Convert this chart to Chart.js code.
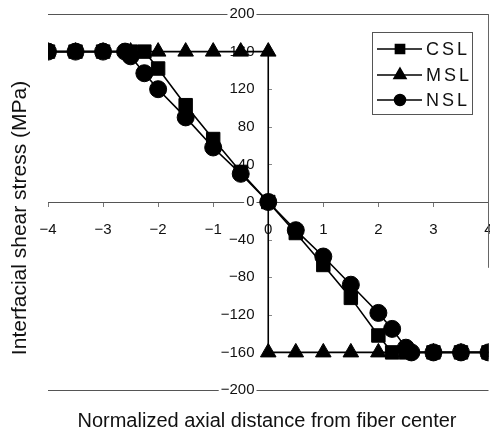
<!DOCTYPE html>
<html>
<head>
<meta charset="utf-8">
<script src="https://cdn.jsdelivr.net/npm/chart.js@4/dist/chart.umd.min.js"></script>
<style>
html,body{margin:0;padding:0;background:#fff;overflow:hidden;}
#wrap{width:490px;height:434px;position:relative;overflow:hidden;}
</style>
</head>
<body>
<div id="wrap"><canvas id="c" width="499" height="434"></canvas></div>
<script>
// ---- data ----
const seriesNames = ["CSL", "MSL", "NSL"];
const cslX = [-4, -3.5, -3, -2.5, -2.25, -2, -1.5, -1, -0.5, 0, 0.5, 1, 1.5, 2, 2.25, 2.5, 3, 3.5, 4];
const cslY = [160, 160, 160, 160, 160, 142, 103, 67, 32, 0, -33, -67, -102, -142, -160, -160, -160, -160, -160];
const mslX = [-4, -3.5, -3, -2.5, -2, -1.5, -1, -0.5, 0, 0, 0.5, 1, 1.5, 2, 2.5, 3, 3.5, 4];
const mslY = [160, 160, 160, 160, 160, 160, 160, 160, 160, -160, -160, -160, -160, -160, -160, -160, -160, -160];
const nslX = [-4, -3.5, -3, -2.6, -2.5, -2.25, -2, -1.5, -1, -0.5, 0, 0.5, 1, 1.5, 2, 2.25, 2.5, 2.6, 3, 3.5, 4];
const nslY = [160, 160, 160, 160, 155, 137, 120, 90, 58, 30, 0, -30, -58, -88, -118, -135, -155, -160, -160, -160, -160];
const xTicks = [-4, -3, -2, -1, 0, 1, 2, 3, 4];
const yTicks = [-200, -160, -120, -80, -40, 0, 40, 80, 120, 160, 200];
const xTitle = "Normalized axial distance from fiber center";
const yTitle = "Interfacial shear stress (MPa)";

const FONT = "'Liberation Sans', Arial, Helvetica, sans-serif";
const pts = (xs, ys) => xs.map((x, i) => ({x: x, y: ys[i]}));
const fmt = v => String(v).replace('-', '\u2212');

const decor = {
  id: 'decor',
  afterDraw(chart) {
    const ctx = chart.ctx, xs = chart.scales.x, ys = chart.scales.y;
    ctx.save();
    // right frame fragment
    ctx.strokeStyle = '#666'; ctx.lineWidth = 1;
    ctx.beginPath();
    const rx = Math.round(xs.getPixelForValue(4)) - 0.5;
    ctx.moveTo(rx, ys.getPixelForValue(200));
    ctx.lineTo(rx, ys.getPixelForValue(-70));
    ctx.stroke();
    // small y tick marks on the right of the centre axis
    const ax = Math.round(xs.getPixelForValue(0));
    ctx.strokeStyle = '#888';
    yTicks.forEach(v => {
      if (Math.abs(v) === 200 || v === 0 || Math.abs(v) === 160) return;
      const py = Math.round(ys.getPixelForValue(v)) + 0.5;
      ctx.beginPath(); ctx.moveTo(ax + 1, py); ctx.lineTo(ax + 4, py); ctx.stroke();
    });
    // titles
    ctx.fillStyle = '#111';
    ctx.font = '20px ' + FONT;
    ctx.textAlign = 'center'; ctx.textBaseline = 'middle';
    ctx.fillText(xTitle, 267, 421);
    ctx.save();
    ctx.font = '21px ' + FONT;
    ctx.translate(20, 218);
    ctx.rotate(-Math.PI / 2);
    ctx.fillText(yTitle, 0, 0);
    ctx.restore();
    // legend
    const bx = 372.5, by = 32.5, bw = 100, bh = 82;
    ctx.fillStyle = '#fff';
    ctx.fillRect(bx, by, bw, bh);
    ctx.strokeStyle = '#555'; ctx.lineWidth = 1;
    ctx.strokeRect(bx, by, bw, bh);
    const rowsY = [49, 75, 100];
    chart.data.datasets.forEach((ds, i) => {
      const y = rowsY[i];
      ctx.strokeStyle = '#000'; ctx.lineWidth = 1.5;
      ctx.beginPath(); ctx.moveTo(377, y); ctx.lineTo(422, y); ctx.stroke();
      ctx.fillStyle = '#000';
      Chart.helpers.drawPoint(ctx, {pointStyle: ds.pointStyle, radius: ds.legendRadius, borderWidth: 1, rotation: 0}, 400, y);
      ctx.fillStyle = '#111';
      ctx.font = '18px ' + FONT;
      ctx.letterSpacing = '3px';
      ctx.textAlign = 'left'; ctx.textBaseline = 'middle';
      ctx.fillText(ds.label, 426, y + 1);
      ctx.letterSpacing = '0px';
    });
    ctx.restore();
  }
};

const mk = (label, data, style, r, lr, order) => ({
  label: label, data: data, order: order,
  borderColor: '#000', backgroundColor: '#000', borderWidth: 1.6,
  pointStyle: style, pointRadius: r, pointHoverRadius: r,
  pointBackgroundColor: '#000', pointBorderColor: '#000', pointBorderWidth: 1,
  legendRadius: lr, tension: 0, fill: false, showLine: true
});

new Chart(document.getElementById('c'), {
  type: 'line',
  data: {
    datasets: [
      mk(seriesNames[0], pts(cslX, cslY), 'rect', 9.5, 6.5, 2),
      mk(seriesNames[1], pts(mslX, mslY), 'triangle', 9, 7, 1),
      mk(seriesNames[2], pts(nslX, nslY), 'circle', 8.5, 5.5, 0)
    ]
  },
  options: {
    responsive: false,
    animation: false,
    events: [],
    layout: {padding: {left: 48, right: 1, top: 14, bottom: 44}},
    plugins: {legend: {display: false}, tooltip: {enabled: false}},
    scales: {
      x: {
        type: 'linear', min: -4, max: 4, position: {y: 0},
        afterFit(s) { s.paddingLeft = 0; s.paddingRight = 0; },
        afterBuildTicks(s) { s.ticks = xTicks.map(v => ({value: v})); },
        ticks: {color: '#111', font: {family: FONT, size: 15}, padding: 15, callback: v => fmt(v), maxRotation: 0, autoSkip: false},
        grid: {drawOnChartArea: false, drawTicks: true, tickLength: 4, color: '#777'},
        border: {display: true, color: '#555', width: 1}
      },
      y: {
        type: 'linear', min: -200, max: 200, position: {x: -0.25},
        afterFit(s) { s.paddingTop = 0; s.paddingBottom = 0; },
        afterBuildTicks(s) { s.ticks = yTicks.map(v => ({value: v})); },
        ticks: {color: '#111', font: {family: FONT, size: 15}, padding: 0, callback: v => fmt(v), autoSkip: false,
                showLabelBackdrop: true, backdropColor: '#fff', backdropPadding: {x: 2, y: 1}},
        grid: {drawTicks: false, color: c => (Math.abs(c.tick.value) === 200 ? '#555' : 'rgba(0,0,0,0)'), lineWidth: 1},
        border: {display: false}
      }
    }
  },
  plugins: [decor]
});
</script>
</body>
</html>
